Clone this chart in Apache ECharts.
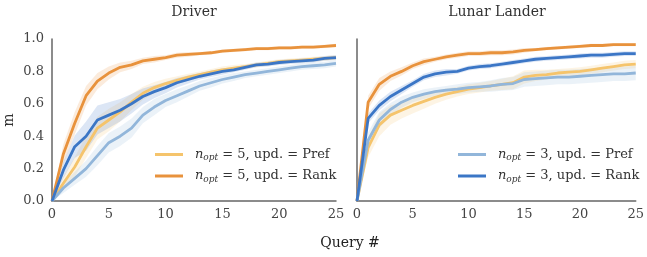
<!DOCTYPE html>
<html>
<head>
<meta charset="utf-8">
<script src="https://cdn.jsdelivr.net/npm/echarts@6/dist/echarts.min.js"></script>
<style>
  html, body { margin: 0; padding: 0; background: #fff; }
  #chart { width: 647px; height: 257px; }
</style>
</head>
<body>
<div id="chart"></div>
<script>
const queries = [0, 1, 2, 3, 4, 5, 6, 7, 8, 9, 10, 11, 12, 13, 14, 15, 16, 17, 18, 19, 20, 21, 22, 23, 24, 25]
const yTicks = [0, 0.2, 0.4, 0.6, 0.8, 1.0]

// Driver, mean m per query
const driverPref5 = [0, 0.11, 0.21, 0.335, 0.45, 0.50, 0.55, 0.61, 0.665, 0.70, 0.725, 0.745, 0.765, 0.78, 0.795, 0.81, 0.82, 0.83, 0.84, 0.85, 0.86, 0.865, 0.87, 0.875, 0.88, 0.885]
const driverRank5 = [0, 0.29, 0.48, 0.65, 0.74, 0.79, 0.825, 0.84, 0.865, 0.875, 0.885, 0.90, 0.905, 0.91, 0.915, 0.925, 0.93, 0.935, 0.94, 0.94, 0.945, 0.945, 0.95, 0.95, 0.955, 0.96]
const driverPref3 = [0, 0.08, 0.14, 0.20, 0.28, 0.36, 0.40, 0.45, 0.53, 0.58, 0.62, 0.65, 0.68, 0.71, 0.73, 0.75, 0.765, 0.78, 0.79, 0.80, 0.81, 0.82, 0.83, 0.835, 0.84, 0.85]
const driverRank3 = [0, 0.19, 0.335, 0.40, 0.50, 0.53, 0.56, 0.60, 0.645, 0.675, 0.70, 0.73, 0.75, 0.77, 0.785, 0.80, 0.81, 0.825, 0.84, 0.845, 0.855, 0.86, 0.865, 0.87, 0.88, 0.885]

// Driver, half width of the shaded band
const driverPref5Sd = [0, 0.04, 0.06, 0.07, 0.07, 0.07, 0.06, 0.05, 0.04, 0.035, 0.03, 0.025, 0.02, 0.02, 0.02, 0.02, 0.02, 0.015, 0.015, 0.015, 0.015, 0.015, 0.015, 0.015, 0.015, 0.015]
const driverRank5Sd = [0, 0.06, 0.07, 0.06, 0.05, 0.04, 0.03, 0.025, 0.02, 0.02, 0.015, 0.015, 0.015, 0.01, 0.01, 0.01, 0.01, 0.01, 0.01, 0.01, 0.01, 0.01, 0.01, 0.01, 0.01, 0.01]
const driverPref3Sd = [0, 0.03, 0.04, 0.05, 0.06, 0.06, 0.06, 0.06, 0.05, 0.05, 0.04, 0.04, 0.035, 0.03, 0.03, 0.025, 0.025, 0.02, 0.02, 0.02, 0.02, 0.02, 0.02, 0.02, 0.02, 0.02]
const driverRank3Sd = [0, 0.05, 0.07, 0.09, 0.09, 0.08, 0.07, 0.06, 0.05, 0.04, 0.035, 0.03, 0.025, 0.02, 0.02, 0.02, 0.015, 0.015, 0.015, 0.015, 0.015, 0.015, 0.015, 0.015, 0.015, 0.015]

// Lunar Lander, mean m per query
const lunarPref5 = [0, 0.33, 0.47, 0.53, 0.56, 0.59, 0.615, 0.64, 0.66, 0.675, 0.69, 0.70, 0.71, 0.72, 0.73, 0.765, 0.775, 0.78, 0.79, 0.795, 0.80, 0.81, 0.82, 0.83, 0.84, 0.845]
const lunarRank5 = [0, 0.61, 0.72, 0.77, 0.80, 0.835, 0.86, 0.875, 0.89, 0.90, 0.91, 0.91, 0.915, 0.915, 0.92, 0.93, 0.935, 0.94, 0.945, 0.95, 0.955, 0.96, 0.96, 0.965, 0.965, 0.965]
const lunarPref3 = [0, 0.375, 0.50, 0.565, 0.61, 0.64, 0.66, 0.675, 0.685, 0.69, 0.70, 0.705, 0.71, 0.72, 0.725, 0.75, 0.755, 0.76, 0.765, 0.765, 0.77, 0.775, 0.78, 0.785, 0.785, 0.79]
const lunarRank3 = [0, 0.51, 0.59, 0.645, 0.685, 0.725, 0.765, 0.785, 0.795, 0.80, 0.82, 0.83, 0.835, 0.845, 0.855, 0.865, 0.875, 0.88, 0.885, 0.89, 0.895, 0.90, 0.90, 0.905, 0.91, 0.91]

// Lunar Lander, half width of the shaded band
const lunarPref5Sd = [0, 0.06, 0.07, 0.06, 0.05, 0.05, 0.045, 0.04, 0.035, 0.03, 0.03, 0.03, 0.03, 0.035, 0.04, 0.04, 0.035, 0.03, 0.025, 0.025, 0.025, 0.025, 0.025, 0.025, 0.025, 0.025]
const lunarRank5Sd = [0, 0.04, 0.04, 0.03, 0.025, 0.02, 0.02, 0.015, 0.015, 0.015, 0.015, 0.015, 0.015, 0.015, 0.015, 0.015, 0.01, 0.01, 0.01, 0.01, 0.01, 0.01, 0.01, 0.01, 0.01, 0.01]
const lunarPref3Sd = [0, 0.05, 0.05, 0.04, 0.035, 0.03, 0.03, 0.025, 0.025, 0.03, 0.03, 0.03, 0.035, 0.04, 0.04, 0.045, 0.045, 0.045, 0.045, 0.045, 0.045, 0.045, 0.045, 0.045, 0.045, 0.045]
const lunarRank3Sd = [0, 0.03, 0.03, 0.03, 0.025, 0.02, 0.02, 0.02, 0.02, 0.015, 0.015, 0.015, 0.015, 0.015, 0.015, 0.015, 0.015, 0.015, 0.015, 0.015, 0.015, 0.015, 0.015, 0.015, 0.015, 0.015]

const font = 'DejaVu Serif'
const kinds = [
  {name: 'n5 Pref', n: 5, upd: 'Pref', color: '#f5c46c'},
  {name: 'n5 Rank', n: 5, upd: 'Rank', color: '#e8923c'},
  {name: 'n3 Pref', n: 3, upd: 'Pref', color: '#92b6da'},
  {name: 'n3 Rank', n: 3, upd: 'Rank', color: '#3b76c6'}
]
const panels = [
  {means: [driverPref5, driverRank5, driverPref3, driverRank3], sds: [driverPref5Sd, driverRank5Sd, driverPref3Sd, driverRank3Sd]},
  {means: [lunarPref5, lunarRank5, lunarPref3, lunarRank3], sds: [lunarPref5Sd, lunarRank5Sd, lunarPref3Sd, lunarRank3Sd]}
]

let bands = []
let lines = []
panels.forEach(function (p, gi) {
  kinds.forEach(function (k, si) {
    let mean = p.means[si]
    let sd = p.sds[si]
    let key = 'band' + gi + '_' + si
    // lower edge (invisible) + band height stacked on top of it
    bands.push({
      type: 'line', name: 'band', xAxisIndex: gi, yAxisIndex: gi, stack: key,
      data: mean.map((m, i) => +(m - sd[i]).toFixed(4)),
      symbol: 'none', silent: true, lineStyle: {opacity: 0}, z: 1
    })
    bands.push({
      type: 'line', name: 'band', xAxisIndex: gi, yAxisIndex: gi, stack: key,
      data: sd.map(s => +(2 * s).toFixed(4)),
      symbol: 'none', silent: true, lineStyle: {opacity: 0},
      areaStyle: {color: k.color, opacity: 0.18}, z: 1
    })
    lines.push({
      type: 'line', name: k.name, xAxisIndex: gi, yAxisIndex: gi,
      data: mean, symbol: 'none', color: k.color,
      lineStyle: {color: k.color, width: 2.8}, z: 3
    })
  })
})

function legendText(name) {
  let k = kinds.find(d => d.name === name)
  return '{i|n}{s|opt}{t| = ' + k.n + ', upd. = ' + k.upd + '}'
}

let legendStyle = {
  fontFamily: font, fontSize: 13, color: '#333',
  rich: {
    i: {fontFamily: font, fontSize: 13, fontStyle: 'italic', color: '#333', padding: [0, 0, 0, 7], lineHeight: 16},
    s: {fontFamily: font, fontSize: 9, fontStyle: 'italic', color: '#333', verticalAlign: 'bottom', lineHeight: 12, padding: [5, 0, 0, 0]},
    t: {fontFamily: font, fontSize: 13, color: '#333', lineHeight: 16}
  }
}

function axisX(gi) {
  return {
    type: 'category', gridIndex: gi, data: queries, boundaryGap: false,
    axisLine: {lineStyle: {color: '#666', width: 1.5}},
    axisTick: {show: false},
    axisLabel: {interval: 4, fontFamily: font, fontSize: 13, color: '#444', margin: 7},
    splitLine: {show: false}
  }
}

function axisY(gi) {
  return {
    type: 'value', gridIndex: gi, min: yTicks[0], max: yTicks[yTicks.length - 1], interval: 0.2,
    axisLine: {show: true, lineStyle: {color: '#666', width: 1.5}},
    axisTick: {show: false},
    axisLabel: {show: gi === 0, fontFamily: font, fontSize: 13, color: '#444', margin: 8,
      formatter: v => v.toFixed(1)},
    splitLine: {show: false},
    name: gi === 0 ? 'm' : '', nameLocation: 'middle', nameGap: 36, nameRotate: 90,
    nameTextStyle: {fontFamily: font, fontSize: 14, color: '#333'}
  }
}

let chart = echarts.init(document.getElementById('chart'))
chart.setOption({
  animation: false,
  grid: [
    {left: 52, right: 311, top: 39, bottom: 56},
    {left: 357, right: 9, top: 39, bottom: 56}
  ],
  xAxis: [axisX(0), axisX(1)],
  yAxis: [axisY(0), axisY(1)],
  legend: [
    {data: ['n5 Pref', 'n5 Rank'], orient: 'vertical', left: 150, top: 143, itemWidth: 28, itemHeight: 3,
      itemGap: 7, icon: 'rect', formatter: legendText, textStyle: legendStyle, selectedMode: false},
    {data: ['n3 Pref', 'n3 Rank'], orient: 'vertical', left: 453, top: 143, itemWidth: 28, itemHeight: 3,
      itemGap: 7, icon: 'rect', formatter: legendText, textStyle: legendStyle, selectedMode: false}
  ],
  graphic: [
    {type: 'text', x: 194, y: 12, style: {text: 'Driver', font: '14px "DejaVu Serif"', fill: '#333', textAlign: 'center', textVerticalAlign: 'middle'}},
    {type: 'text', x: 497, y: 12, style: {text: 'Lunar Lander', font: '14px "DejaVu Serif"', fill: '#333', textAlign: 'center', textVerticalAlign: 'middle'}},
    {type: 'text', x: 350, y: 243, style: {text: 'Query #', font: '14px "DejaVu Serif"', fill: '#222', textAlign: 'center', textVerticalAlign: 'middle'}}
  ],
  series: bands.concat(lines)
})
</script>
</body>
</html>
